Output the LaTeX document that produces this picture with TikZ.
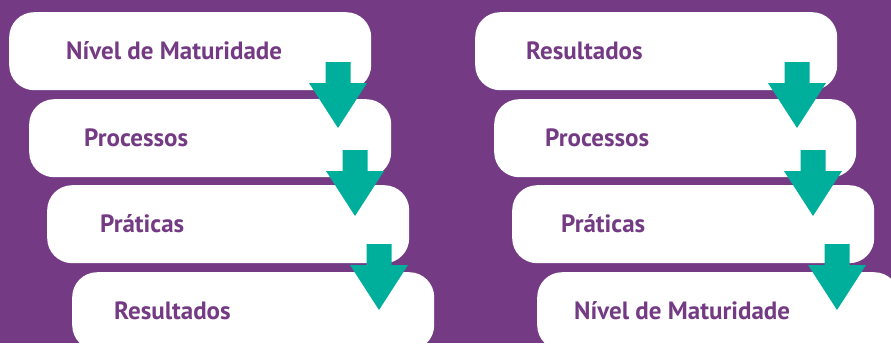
\documentclass[tikz,border=0pt]{standalone}
\usepackage{fontspec}
\setmainfont{PT Sans}
\definecolor{roxo}{RGB}{116,59,132}
\definecolor{verde}{RGB}{0,174,156}
\tikzset{
  caixa/.style={fill=white, rounded corners=25pt, minimum width=362pt,
    minimum height=78pt, anchor=north west, inner sep=0pt},
  rotulo/.style={anchor=base west, text=roxo, inner sep=0pt,
    font=\bfseries\fontsize{25}{25}\selectfont},
  seta/.style={fill=verde}
}
\begin{document}
\begin{tikzpicture}[x=1pt,y=-1pt]
	\fill[roxo] (0,0) rectangle (891,343);
	\useasboundingbox (0,0) rectangle (891,343);
	% coluna da esquerda
	\node[caixa](e1) at (9,12){};
	\node[caixa](e2) at (29,99){};
	\node[caixa](e3) at (47,185){};
	\node[caixa](e4) at (72,272){};
	\node[rotulo](te1) at (66,59.5){Nível de Maturidade};
	\node[rotulo](te2) at (84,146.5){Processos};
	\node[rotulo](te3) at (100,232.5){Práticas};
	\node[rotulo](te4) at (114,319){Resultados};
	% coluna da direita
	\node[caixa](d1) at (475,12){};
	\node[caixa](d2) at (494,99){};
	\node[caixa](d3) at (512,185){};
	\node[caixa](d4) at (537,272){};
	\node[rotulo](td1) at (526,59.5){Resultados};
	\node[rotulo](td2) at (545,146.5){Processos};
	\node[rotulo](td3) at (561,232.5){Práticas};
	\node[rotulo](td4) at (574,319){Nível de Maturidade};
	% setas
	\foreach \cx/\yt in {338/62, 355/150, 379/244, 797/62, 813/150, 837/244}
		\fill[seta] (\cx-12.5,\yt) -- (\cx+12.5,\yt) -- (\cx+12.5,\yt+21)
			-- (\cx+29,\yt+21) -- (\cx,\yt+66) -- (\cx-29,\yt+21)
			-- (\cx-12.5,\yt+21) -- cycle;
\end{tikzpicture}
\end{document}
